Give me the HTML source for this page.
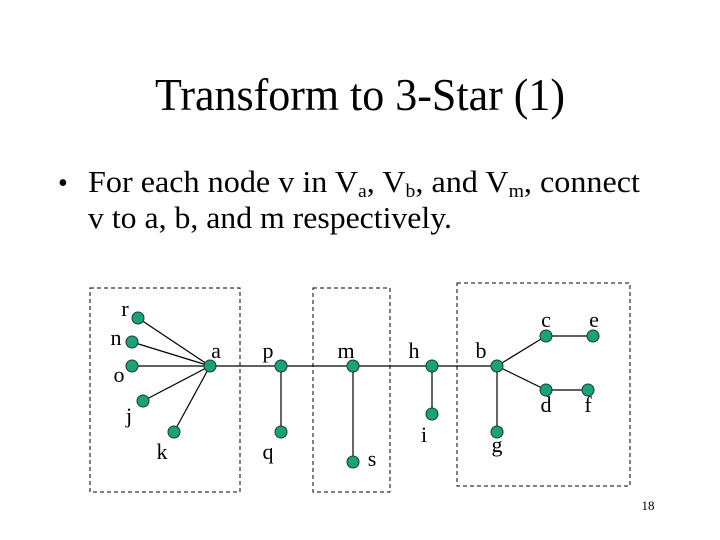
<!DOCTYPE html>
<html><head><meta charset="utf-8"><style>
html,body{margin:0;padding:0;background:#fff;}
svg{display:block;}
text{font-family:"Liberation Serif",serif;fill:#000;}
</style></head><body>
<svg width="720" height="540" viewBox="0 0 720 540" xmlns="http://www.w3.org/2000/svg">
<text x="155" y="110" font-size="45" textLength="410" lengthAdjust="spacingAndGlyphs">Transform to 3-Star (1)</text>
<text x="58" y="192" font-size="28">•</text>
<text x="88" y="192" font-size="31" textLength="552" lengthAdjust="spacingAndGlyphs">For each node v in V<tspan font-size="19" dy="5">a</tspan><tspan dy="-5">, V</tspan><tspan font-size="19" dy="5">b</tspan><tspan dy="-5">, and V</tspan><tspan font-size="19" dy="5">m</tspan><tspan dy="-5">, connect</tspan></text>
<text x="88" y="228" font-size="31" textLength="364" lengthAdjust="spacingAndGlyphs">v to a, b, and m respectively.</text>
<g fill="none" stroke="#000" stroke-width="1" stroke-dasharray="4,3">
<rect x="90" y="288" width="150" height="204"/>
<rect x="313" y="288" width="77" height="204"/>
<rect x="457" y="283" width="173" height="203"/>
</g>
<g stroke="#000" stroke-width="1.2">
<line x1="138" y1="318" x2="210" y2="366"/>
<line x1="132" y1="342" x2="210" y2="366"/>
<line x1="132" y1="366" x2="210" y2="366"/>
<line x1="143" y1="401" x2="210" y2="366"/>
<line x1="174" y1="432" x2="210" y2="366"/>
<line x1="210" y1="366" x2="497" y2="366"/>
<line x1="281" y1="366" x2="281" y2="432"/>
<line x1="353" y1="366" x2="353" y2="462"/>
<line x1="432" y1="366" x2="432" y2="414"/>
<line x1="497" y1="366" x2="497" y2="432"/>
<line x1="497" y1="366" x2="546" y2="336"/>
<line x1="497" y1="366" x2="546" y2="390"/>
<line x1="546" y1="336" x2="593" y2="336"/>
<line x1="546" y1="390" x2="588" y2="390"/>
</g>
<g fill="#1aa37a" stroke="#1a3a30" stroke-width="1">
<circle cx="138" cy="318" r="6"/><circle cx="132" cy="342" r="6"/><circle cx="132" cy="366" r="6"/>
<circle cx="143" cy="401" r="6"/><circle cx="174" cy="432" r="6"/><circle cx="210" cy="366" r="6"/>
<circle cx="281" cy="366" r="6"/><circle cx="281" cy="432" r="6"/><circle cx="353" cy="366" r="6"/>
<circle cx="353" cy="462" r="6"/><circle cx="432" cy="366" r="6"/><circle cx="432" cy="414" r="6"/>
<circle cx="497" cy="366" r="6"/><circle cx="497" cy="432" r="6"/><circle cx="546" cy="336" r="6"/>
<circle cx="593" cy="336" r="6"/><circle cx="546" cy="390" r="6"/><circle cx="588" cy="390" r="6"/>
</g>
<g font-size="22" text-anchor="middle">
<text x="125" y="316">r</text><text x="116" y="345">n</text><text x="119" y="382">o</text>
<text x="129" y="423">j</text><text x="162" y="459">k</text><text x="216" y="358">a</text>
<text x="268" y="358">p</text><text x="268" y="459">q</text><text x="346" y="358">m</text>
<text x="372" y="466">s</text><text x="414" y="358">h</text><text x="424" y="442">i</text>
<text x="481" y="358">b</text><text x="497" y="452">g</text><text x="546" y="327">c</text>
<text x="594" y="327">e</text><text x="546" y="412">d</text><text x="588" y="412">f</text>
</g>
<text x="648" y="510" font-size="13" text-anchor="middle">18</text>
</svg>
</body></html>
